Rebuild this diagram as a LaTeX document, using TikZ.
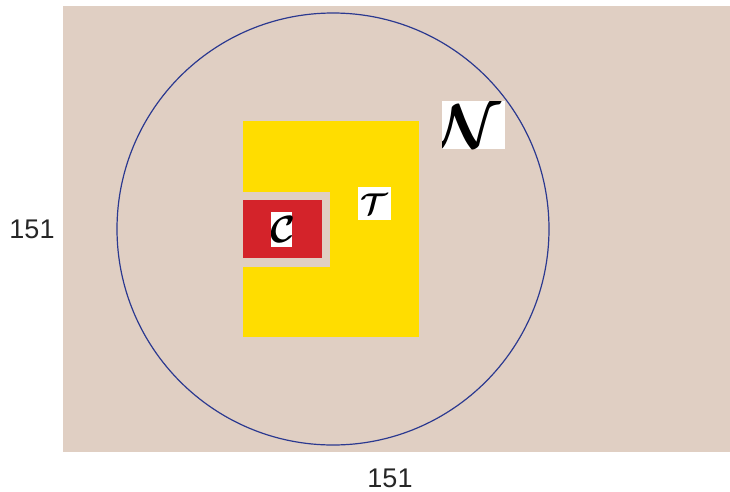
\RequirePackage{fix-cm}
\documentclass[tikz,border=0pt]{standalone}
\usepackage{amsmath}
\usepackage{fontspec}
\setmainfont{Liberation Sans}
\definecolor{bgbeige}{HTML}{E0CFC3}
\definecolor{ringblue}{HTML}{2B3990}
\definecolor{tyellow}{HTML}{FFDD00}
\definecolor{cred}{HTML}{D4232A}
\tikzset{
  region/.style={draw=none, inner sep=0pt, outer sep=0pt, anchor=north west},
  letterbox/.style={fill=white, inner sep=0pt, outer sep=0pt, anchor=north west},
  axislabel/.style={font=\fontsize{27}{27}\selectfont, text=black!85, inner sep=0pt, anchor=base}
}
\begin{document}
\begin{tikzpicture}[x=1pt,y=-1pt]
\useasboundingbox (0,0) rectangle (730,491);
% background
\node[region, fill=bgbeige, minimum width=667pt, minimum height=446pt] (bg) at (63,6) {};
% circle N
\node[draw=ringblue, line width=1.2pt, circle, minimum size=432pt, inner sep=0pt] (ring) at (333,229) {};
% yellow T
\node[region, fill=tyellow, minimum width=176pt, minimum height=216pt] (treg) at (243,121) {};
% beige frame around C
\node[region, fill=bgbeige, minimum width=87pt, minimum height=75pt] (cframe) at (243,192) {};
% red C
\node[region, fill=cred, minimum width=79pt, minimum height=58pt] (creg) at (243,200) {};
% letter boxes
\node[letterbox, minimum width=63pt, minimum height=48pt] (nbox) at (442,101) {};
\begin{scope}
\clip (442,101) rectangle (505,149);
\node[inner sep=0pt] (nlet) at (468,126) {\fontsize{62}{62}\selectfont$\boldsymbol{\mathcal{N}}$};
\end{scope}
\node[letterbox, minimum width=33pt, minimum height=33pt] (tbox) at (358,187) {};
\node[inner sep=0pt] (tlet) at (374.5,204) {\fontsize{30}{30}\selectfont$\boldsymbol{\mathcal{T}}$};
\node[letterbox, minimum width=21pt, minimum height=35pt] (cbox) at (271,212) {};
\begin{scope}
\clip (271,212) rectangle (292,247);
\node[inner sep=0pt] (clet) at (283,229) {\fontsize{38}{38}\selectfont$\boldsymbol{\mathcal{C}}$};
\end{scope}
% axis labels
\node[axislabel] (ylab) at (32,238) {151};
\node[axislabel] (xlab) at (390,487) {151};
\end{tikzpicture}
\end{document}
